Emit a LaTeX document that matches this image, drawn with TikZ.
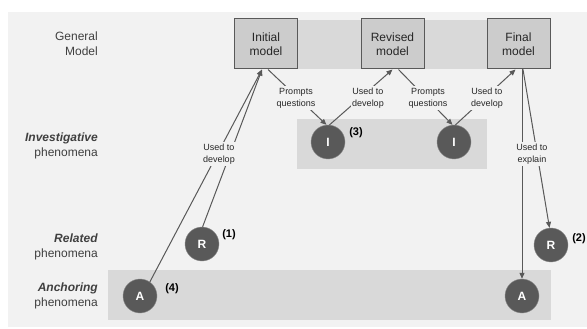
\documentclass[tikz,border=0pt]{standalone}
\usepackage{fontspec}
\setmainfont{Liberation Sans}
\usetikzlibrary{arrows.meta}
\definecolor{bg}{HTML}{F2F2F2}
\definecolor{band}{HTML}{D9D9D9}
\definecolor{boxc}{HTML}{CCCCCC}
\definecolor{dk}{HTML}{595959}
\definecolor{txt}{HTML}{404040}
\begin{document}
\begin{tikzpicture}[x=1pt,y=-1pt,
 modelbox/.style={draw=dk, line width=1pt, fill=boxc, minimum width=63pt, minimum height=50pt, inner sep=1pt, align=center, font=\fontsize{12}{14}\selectfont, text=black!85},
 phen/.style={circle, fill=dk, draw=dk!70, minimum size=34pt, inner sep=0pt, text=white, font=\fontsize{12}{14}\selectfont\bfseries},
 rowlab/.style={anchor=east, align=right, text=txt, inner sep=0pt, font=\fontsize{12}{15}\selectfont},
 edgelab/.style={fill=bg, inner sep=1.5pt, align=center, text=black!85, font=\fontsize{9}{12}\selectfont},
 num/.style={font=\fontsize{11}{12}\selectfont\bfseries, text=black, inner sep=0pt},
 conn/.style={draw=dk, line width=1pt, -{Triangle[length=6pt,width=5pt]}},
]
\useasboundingbox (0,0) rectangle (587,329);
\fill[white] (0,0) rectangle (587,329);
\fill[bg] (8,12) rectangle (587,327);
\fill[band] (234,20) rectangle (550,69);
\fill[band] (297,119) rectangle (487,169);
\fill[band] (108,270) rectangle (551,320);

\node[modelbox] (im) at (266,44) {Initial\\model};
\node[modelbox] (rm) at (392.5,44) {Revised\\model};
\node[modelbox] (fm) at (518.5,44) {Final\\model};

\node[phen] (i1) at (328,142) {I};
\node[phen] (i2) at (454,142) {I};
\node[phen] (r1) at (202,244) {R};
\node[phen] (r2) at (551,245) {R};
\node[phen] (a1) at (140,296) {A};
\node[phen] (a2) at (522,296) {A};

\node[num] (n1) at (229,235) {(1)};
\node[num] (n2) at (579,239) {(2)};
\node[num] (n3) at (356,133) {(3)};
\node[num] (n4) at (172,289) {(4)};

\node[rowlab] (gm) at (98,44) {General\\Model};
\node[rowlab] (ip) at (98,145.5) {\textbf{\textit{Investigative}}\\phenomena};
\node[rowlab] (rp) at (98,246.5) {\textbf{\textit{Related}}\\phenomena};
\node[rowlab] (ap) at (98,296) {\textbf{\textit{Anchoring}}\\phenomena};

\draw[conn] (a1.55) -- ([xshift=-4pt]im.south);
\draw[conn] (r1.88) -- ([xshift=-4pt]im.south);
\draw[conn] ([xshift=2pt]im.south) -- (i1.95);
\draw[conn] (i1.85) -- (rm.south);
\draw[conn] ([xshift=6pt]rm.south) -- (i2.95);
\draw[conn] (i2.85) -- ([xshift=-3pt]fm.south);
\draw[conn] ([xshift=3.5pt]fm.south) -- (a2.north);
\draw[conn] ([xshift=4.5pt]fm.south) -- (r2.95);

\node[edgelab] (l1) at (219,154) {Used to\\develop};
\node[edgelab] (l2) at (296,98) {Prompts\\questions};
\node[edgelab] (l3) at (368,98) {Used to\\develop};
\node[edgelab] (l4) at (428,98) {Prompts\\questions};
\node[edgelab] (l5) at (487,98) {Used to\\develop};
\node[edgelab] (l6) at (532,154) {Used to\\explain};
\end{tikzpicture}
\end{document}
